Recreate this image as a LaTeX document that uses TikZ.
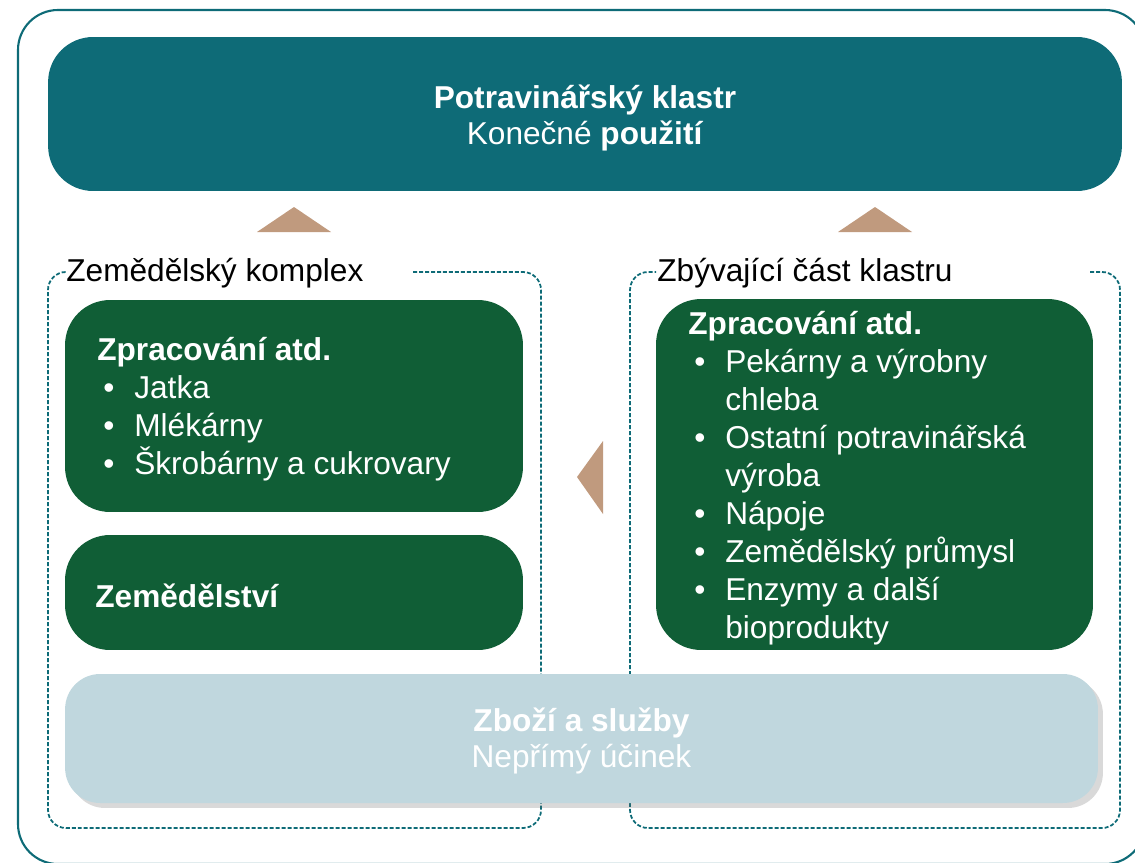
\documentclass[tikz,border=0pt]{standalone}
\usepackage{fontspec}
\setmainfont{Liberation Sans}
\usetikzlibrary{positioning,shadows}

\definecolor{clustteal}{RGB}{14,107,119}
\definecolor{agrigreen}{RGB}{16,94,54}
\definecolor{goodsblue}{RGB}{192,215,222}
\definecolor{flowtan}{RGB}{192,154,126}

\newcommand{\bitem}{\hspace*{0.12cm}\makebox[0.62cm][l]{•}}
\newcommand{\bcont}{\hspace*{0.74cm}}

\tikzset{
  box/.style={rounded corners=0.9cm, inner sep=0pt},
  boxtext/.style={text=white, align=left, inner sep=0pt, anchor=base west,
    font=\fontsize{18}{21.6}\selectfont},
  grouplabel/.style={inner sep=0pt, anchor=base west,
    font=\fontsize{18}{21.6}\selectfont},
  groupline/.style={draw=clustteal, line width=1pt, dash pattern=on 0.08cm off 0.04cm,
    rounded corners=0.36cm},
}

\begin{document}
\begin{tikzpicture}[x=0.02cm,y=-0.02cm]
\useasboundingbox (0,0) rectangle (1135,862);
\clip (0,0) rectangle (1135,862);
% outer frame
\draw[clustteal, line width=1.2pt, rounded corners=0.8cm] (18,10) rectangle (1145,864);

% end use
\node[box, fill=clustteal, minimum width=21.48cm, minimum height=3.08cm]
    (cluster) at (585,114) {};
\node[text=white, align=center, font=\fontsize{18}{21}\selectfont]
    at ([yshift=-0.08cm]cluster.center) {\textbf{Potravinářský klastr}\\Konečné \textbf{použití}};

\fill[flowtan] (257,232) -- (294,207) -- (331,232) -- cycle;
\fill[flowtan] (838,232) -- (875,207) -- (912,232) -- cycle;

% groups
\draw[groupline] (413,272) -- (541,272) -- (541,828) -- (48,828) -- (48,272) -- (66,272);
\draw[groupline] (1090,272) -- (1120,272) -- (1120,828) -- (630,828) -- (630,272) -- (656,272);
\node[grouplabel] (aglabel) at (66,281) {Zemědělský komplex};
\node[grouplabel] (restlabel) at (657,281) {Zbývající část klastru};

% agricultural complex
\node[box, fill=agrigreen, minimum width=9.16cm, minimum height=4.24cm]
    (agproc) at (294,406) {};
\node[boxtext] at (97,474) {\textbf{Zpracování atd.}\\
    \bitem Jatka\\
    \bitem Mlékárny\\
    \bitem Škrobárny a cukrovary};
\node[box, fill=agrigreen, minimum width=9.16cm, minimum height=2.3cm]
    (agri) at (294,592.5) {};
\node[boxtext] at (95,607) {\textbf{Zemědělství}};

\fill[flowtan] (603,441) -- (577,477) -- (603,514) -- cycle;

% rest of cluster
\node[box, fill=agrigreen, minimum width=8.74cm, minimum height=7.02cm]
    (restproc) at (874.5,474.5) {};
\node[boxtext] at (688,638) {\textbf{Zpracování atd.}\\
    \bitem Pekárny a výrobny\\
    \bcont chleba\\
    \bitem Ostatní potravinářská\\
    \bcont výroba\\
    \bitem Nápoje\\
    \bitem Zemědělský průmysl\\
    \bitem Enzymy a další\\
    \bcont bioprodukty};

% indirect effect
\node[box, rounded corners=0.7cm, fill=goodsblue, minimum width=20.66cm, minimum height=2.58cm,
    drop shadow={shadow xshift=0.1cm, shadow yshift=-0.1cm, opacity=0.25, fill=black!60}]
    (goods) at (581.5,738.5) {};
\node[text=white, align=center, font=\fontsize{18}{21}\selectfont]
    at ([yshift=-0.05cm]goods.center) {\textbf{Zboží a služby}\\Nepřímý účinek};
\end{tikzpicture}
\end{document}
